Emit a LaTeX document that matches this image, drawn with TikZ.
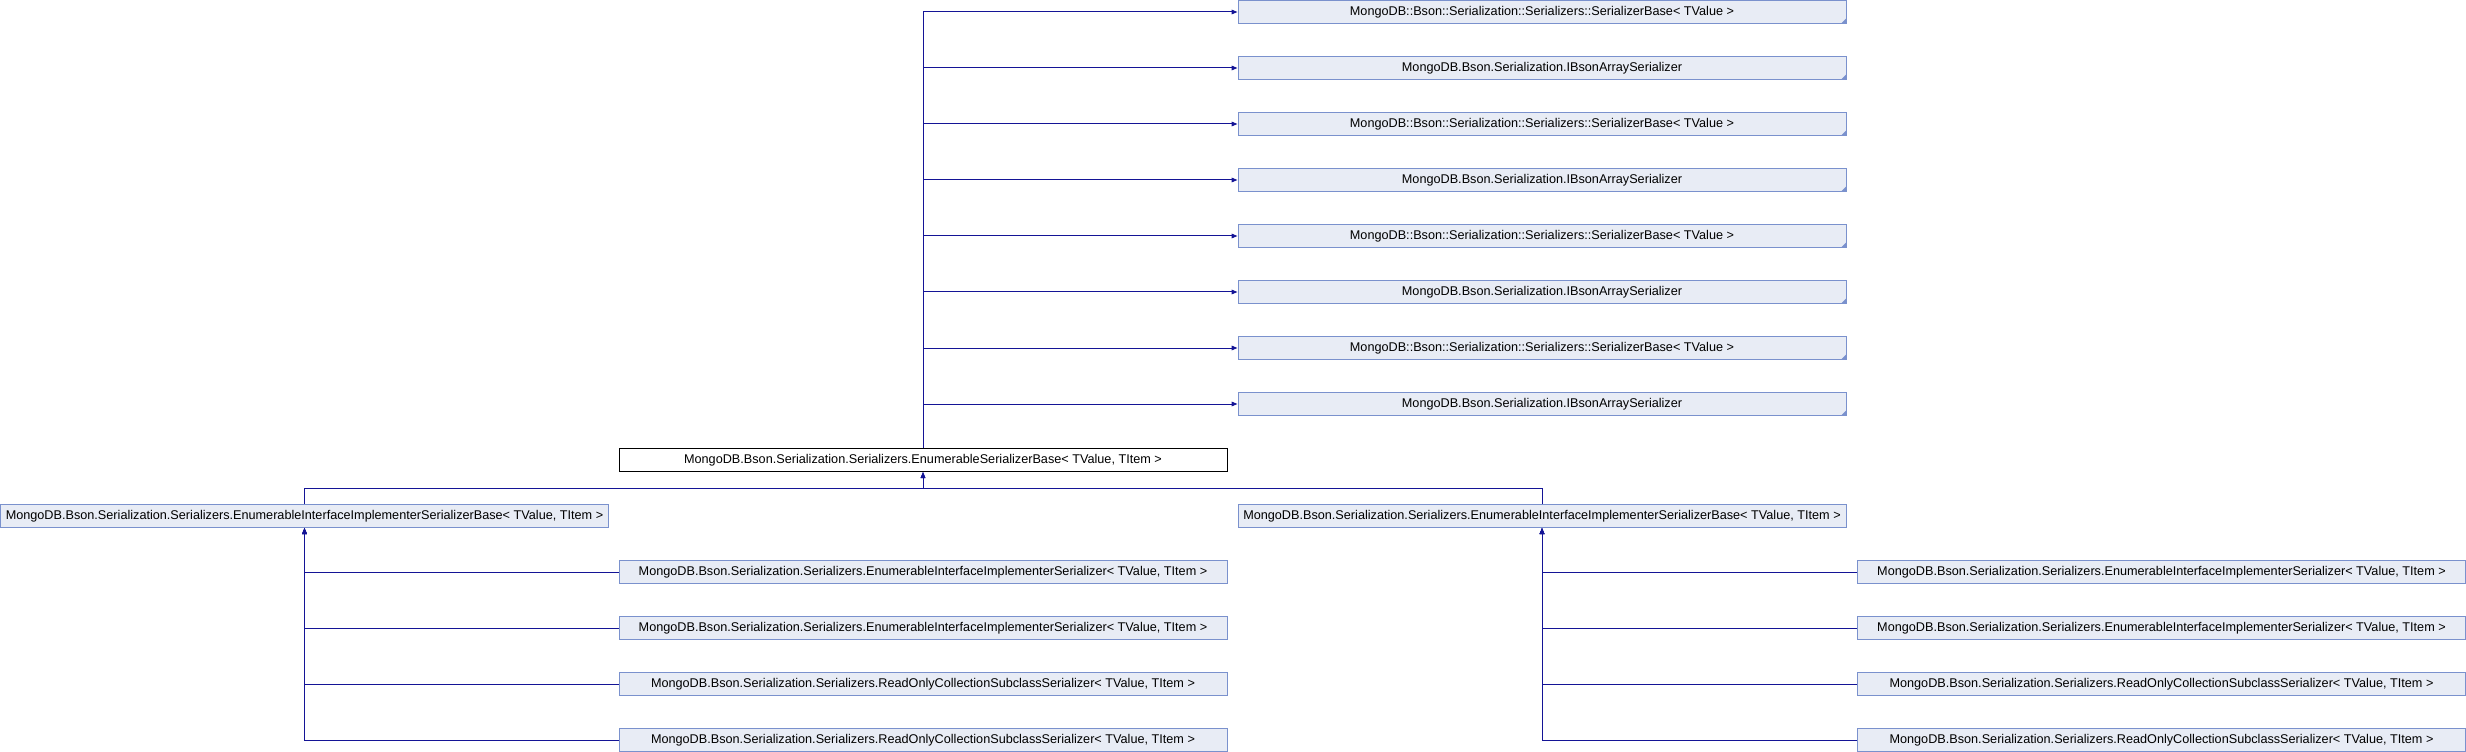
\documentclass[tikz,border=0pt]{standalone}
\usepackage{fontspec}
\setmainfont{Liberation Sans}
\usetikzlibrary{arrows.meta}
\definecolor{edgeblue}{RGB}{20,20,150}
\definecolor{boxfill}{RGB}{232,236,245}
\definecolor{boxline}{RGB}{122,145,205}

\begin{document}
\begin{tikzpicture}[x=0.75pt, y=-0.75pt,
        cls/.style={draw=boxline, fill=boxfill, line width=0.75pt, minimum width=456pt,
            minimum height=17.25pt, inner sep=0pt, font=\fontsize{9.5}{11}\selectfont},
        clsmark/.style={cls, path picture={\fill[boxline] (path picture bounding box.south east)
            -- ++(-5,0) -- ++(5,-5) -- cycle;}},
        self/.style={cls, draw=black, fill=white},
        inh/.style={-{Triangle[length=4.5pt,width=3.5pt]}, draw=edgeblue, line width=0.75pt}]

        \useasboundingbox (0,0) rectangle (2466,752);

        \node[clsmark] (base1) at (1542,12) {MongoDB::Bson::Serialization::Serializers::SerializerBase< TValue >};
        \node[clsmark] (iface1) at (1542,68) {MongoDB.Bson.Serialization.IBsonArraySerializer};
        \node[clsmark] (base2) at (1542,124) {MongoDB::Bson::Serialization::Serializers::SerializerBase< TValue >};
        \node[clsmark] (iface2) at (1542,180) {MongoDB.Bson.Serialization.IBsonArraySerializer};
        \node[clsmark] (base3) at (1542,236) {MongoDB::Bson::Serialization::Serializers::SerializerBase< TValue >};
        \node[clsmark] (iface3) at (1542,292) {MongoDB.Bson.Serialization.IBsonArraySerializer};
        \node[clsmark] (base4) at (1542,348) {MongoDB::Bson::Serialization::Serializers::SerializerBase< TValue >};
        \node[clsmark] (iface4) at (1542,404) {MongoDB.Bson.Serialization.IBsonArraySerializer};

        \node[self] (enumbase) at (923,460) {MongoDB.Bson.Serialization.Serializers.EnumerableSerializerBase< TValue, TItem >};
        \draw[inh] (enumbase.north) |- (base1.west);
        \draw[inh] (enumbase.north) |- (iface1.west);
        \draw[inh] (enumbase.north) |- (base2.west);
        \draw[inh] (enumbase.north) |- (iface2.west);
        \draw[inh] (enumbase.north) |- (base3.west);
        \draw[inh] (enumbase.north) |- (iface3.west);
        \draw[inh] (enumbase.north) |- (base4.west);
        \draw[inh] (enumbase.north) |- (iface4.west);

        \node[cls] (implbaseL) at (304.5,516) {MongoDB.Bson.Serialization.Serializers.EnumerableInterfaceImplementerSerializerBase< TValue, TItem >};
        \node[cls] (implbaseR) at (1542,516) {MongoDB.Bson.Serialization.Serializers.EnumerableInterfaceImplementerSerializerBase< TValue, TItem >};
        \draw[inh] (implbaseL.north) -- ++(0,-16) -| (enumbase.south);
        \draw[inh] (implbaseR.north) -- ++(0,-16) -| (enumbase.south);

        % left branch
        \node[cls] (implL1) at (923,572) {MongoDB.Bson.Serialization.Serializers.EnumerableInterfaceImplementerSerializer< TValue, TItem >};
        \node[cls] (implL2) at (923,628) {MongoDB.Bson.Serialization.Serializers.EnumerableInterfaceImplementerSerializer< TValue, TItem >};
        \node[cls] (roL1) at (923,684) {MongoDB.Bson.Serialization.Serializers.ReadOnlyCollectionSubclassSerializer< TValue, TItem >};
        \node[cls] (roL2) at (923,740) {MongoDB.Bson.Serialization.Serializers.ReadOnlyCollectionSubclassSerializer< TValue, TItem >};
        \draw[inh] (implL1.west) -| (implbaseL.south);
        \draw[inh] (implL2.west) -| (implbaseL.south);
        \draw[inh] (roL1.west) -| (implbaseL.south);
        \draw[inh] (roL2.west) -| (implbaseL.south);

        % right branch
        \node[cls] (implR1) at (2161.5,572) {MongoDB.Bson.Serialization.Serializers.EnumerableInterfaceImplementerSerializer< TValue, TItem >};
        \node[cls] (implR2) at (2161.5,628) {MongoDB.Bson.Serialization.Serializers.EnumerableInterfaceImplementerSerializer< TValue, TItem >};
        \node[cls] (roR1) at (2161.5,684) {MongoDB.Bson.Serialization.Serializers.ReadOnlyCollectionSubclassSerializer< TValue, TItem >};
        \node[cls] (roR2) at (2161.5,740) {MongoDB.Bson.Serialization.Serializers.ReadOnlyCollectionSubclassSerializer< TValue, TItem >};
        \draw[inh] (implR1.west) -| (implbaseR.south);
        \draw[inh] (implR2.west) -| (implbaseR.south);
        \draw[inh] (roR1.west) -| (implbaseR.south);
        \draw[inh] (roR2.west) -| (implbaseR.south);

    \end{tikzpicture}
\end{document}
